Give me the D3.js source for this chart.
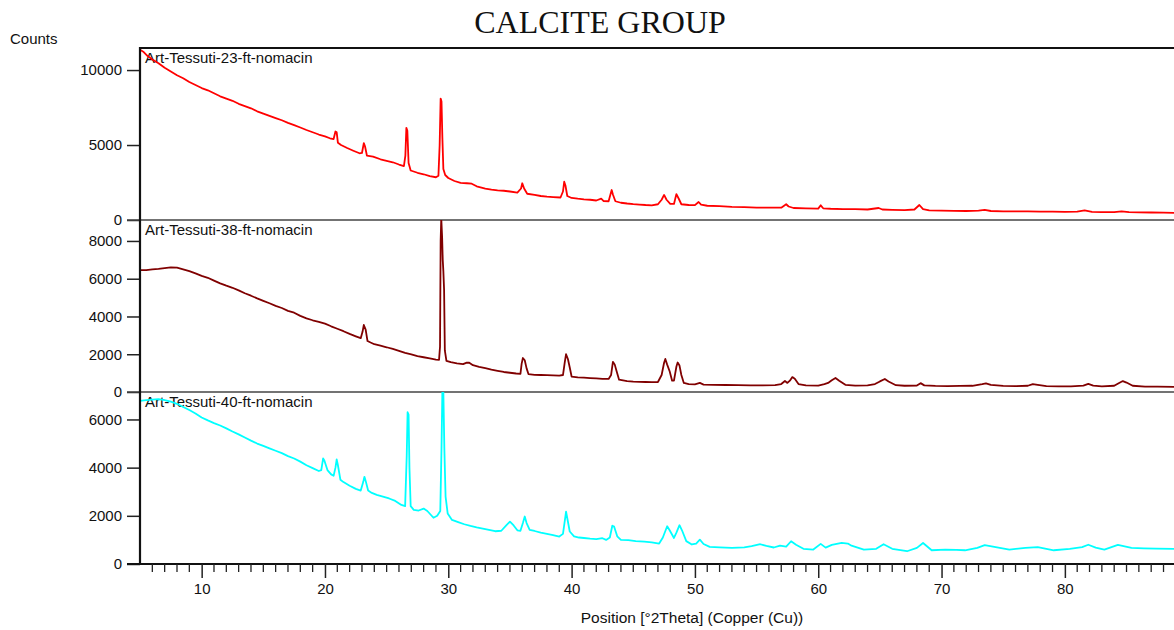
<!DOCTYPE html>
<html>
<head>
<meta charset="utf-8">
<script src="https://cdn.jsdelivr.net/npm/d3@7"></script>
<style>
  body { margin: 0; background: #fff; }
  svg { display: block; }
  text { font-family: "Liberation Sans", Arial, sans-serif; fill: #111; }
</style>
</head>
<body>
<svg id="chart" width="1174" height="630"></svg>
<script>
// Diffraction scans: [position °2θ, counts]
const sample23 = [
  [5.0,11350],[5.3,11200],[5.6,10950],[6.0,10700],[6.5,10450],[7.0,10150],[7.5,9900],[8.0,9650],[8.5,9450],[9.0,9200],
  [9.5,9000],[10.0,8800],[10.5,8650],[11.0,8450],[11.5,8250],[12.0,8100],[12.5,7950],[13.0,7750],[13.5,7600],[14.0,7450],
  [14.5,7250],[15.0,7100],[15.5,6950],[16.0,6800],[16.5,6650],[17.0,6480],[17.5,6330],[18.0,6170],[18.5,6000],[19.0,5850],
  [19.5,5700],[20.0,5580],[20.4,5450],[20.7,5400],[20.85,5900],[20.95,5850],[21.05,5150],[21.3,5000],[21.8,4800],[22.3,4620],
  [22.8,4450],[23.0,4470],[23.15,5130],[23.25,4900],[23.4,4300],[23.9,4230],[24.5,4050],[25.0,3950],[25.5,3850],[26.0,3700],
  [26.4,3600],[26.52,4300],[26.6,6150],[26.68,5950],[26.78,3800],[26.95,3300],[27.5,3150],[28.0,3050],[28.5,2920],[29.0,2850],
  [29.2,2950],[29.3,5000],[29.38,8100],[29.45,7900],[29.52,5500],[29.6,3400],[29.75,3000],[30.0,2800],[30.5,2600],[31.0,2470],
  [31.5,2450],[31.9,2420],[32.3,2250],[33.0,2100],[33.5,2020],[34.0,1980],[34.5,1950],[35.0,1900],[35.6,1830],[35.9,2100],
  [36.0,2450],[36.15,2100],[36.4,1750],[37.0,1680],[37.5,1600],[38.0,1560],[38.5,1530],[39.1,1500],[39.3,1900],[39.4,2550],
  [39.5,2300],[39.65,1600],[40.0,1470],[40.5,1420],[41.0,1380],[41.5,1350],[42.0,1300],[42.4,1420],[42.6,1260],[43.0,1250],
  [43.15,1700],[43.25,2000],[43.35,1700],[43.55,1250],[44.0,1150],[44.5,1100],[45.0,1060],[45.5,1030],[46.0,1000],[46.5,980],
  [47.0,1050],[47.3,1350],[47.5,1670],[47.7,1350],[48.0,1080],[48.3,1070],[48.5,1730],[48.7,1400],[48.9,1050],[49.5,1000],
  [50.0,990],[50.3,1200],[50.5,1020],[51.0,950],[52.0,930],[53.0,880],[54.0,860],[55.0,830],[56.0,820],[57.0,820],
  [57.4,1050],[57.6,900],[58.0,800],[59.0,780],[60.0,760],[60.2,980],[60.4,780],[61.0,750],[62.0,730],[63.0,720],
  [64.0,700],[64.9,800],[65.2,700],[66.0,680],[67.0,660],[67.8,700],[68.2,1000],[68.5,720],[69.0,640],[70.0,620],
  [71.0,610],[72.0,600],[73.0,620],[73.5,680],[74.0,600],[75.0,580],[76.0,570],[77.0,570],[78.0,560],[79.0,560],
  [80.0,540],[81.0,560],[81.6,640],[82.2,540],[83.0,530],[84.0,520],[84.6,570],[85.2,520],[86.0,510],[87.0,500],
  [88.0,490],[88.9,480]
];

const sample38 = [
  [5.0,6460],[5.5,6450],[6.0,6500],[6.5,6520],[7.0,6560],[7.5,6600],[8.0,6590],[8.5,6500],[9.0,6400],[9.5,6280],
  [10.0,6150],[10.5,6050],[11.0,5900],[11.5,5750],[12.0,5630],[12.5,5520],[13.0,5380],[13.5,5230],[14.0,5100],[14.5,4960],
  [15.0,4830],[15.5,4700],[16.0,4560],[16.5,4450],[17.0,4300],[17.5,4200],[18.0,4030],[18.5,3900],[19.0,3800],[19.5,3720],
  [20.0,3620],[20.5,3480],[21.0,3350],[21.5,3220],[22.0,3080],[22.5,2950],[22.9,2850],[23.05,3200],[23.15,3550],[23.3,3300],
  [23.45,2700],[23.7,2620],[24.0,2530],[24.5,2450],[25.0,2370],[25.5,2280],[26.0,2180],[26.5,2070],[27.0,1990],[27.5,1900],
  [28.0,1840],[28.5,1780],[29.0,1720],[29.25,1700],[29.33,2400],[29.38,8000],[29.43,9200],[29.5,8200],[29.55,7000],[29.6,6400],
  [29.66,5400],[29.72,2200],[29.85,1650],[30.2,1580],[30.7,1520],[31.2,1480],[31.5,1560],[31.7,1550],[32.0,1420],[32.5,1330],
  [33.0,1260],[33.5,1180],[34.0,1120],[34.5,1060],[35.0,1020],[35.5,980],[35.85,960],[35.95,1500],[36.05,1800],[36.2,1680],
  [36.35,1250],[36.5,950],[37.0,910],[37.5,900],[38.0,890],[38.5,880],[39.0,870],[39.3,900],[39.45,1600],[39.55,2000],
  [39.7,1750],[39.85,1300],[40.0,820],[40.5,770],[41.0,760],[41.5,740],[42.0,720],[42.5,700],[43.0,690],[43.2,900],
  [43.35,1600],[43.5,1450],[43.65,1100],[43.85,650],[44.5,580],[45.0,550],[45.5,540],[46.0,530],[46.5,520],[47.0,530],
  [47.3,900],[47.5,1550],[47.6,1750],[47.75,1450],[47.95,1100],[48.15,600],[48.3,600],[48.5,1350],[48.6,1560],[48.75,1400],
  [48.9,900],[49.1,480],[49.5,420],[50.0,400],[50.4,480],[50.7,390],[51.5,380],[52.5,370],[53.5,360],[54.5,350],
  [55.5,350],[56.5,360],[57.0,420],[57.3,580],[57.5,480],[57.7,600],[57.9,790],[58.1,700],[58.4,420],[59.0,350],
  [60.0,340],[60.5,420],[60.8,480],[61.1,620],[61.4,740],[61.7,600],[62.2,380],[63.0,340],[64.0,350],[64.6,420],
  [65.0,560],[65.4,690],[65.7,560],[66.3,360],[67.0,330],[68.0,340],[68.3,470],[68.6,350],[69.5,320],[70.5,310],
  [71.5,320],[72.5,330],[73.3,420],[73.6,460],[74.0,380],[75.0,320],[76.0,310],[77.0,330],[77.4,420],[77.8,380],
  [78.5,310],[79.5,300],[80.5,300],[81.5,340],[81.9,430],[82.3,340],[83.0,300],[84.0,330],[84.4,480],[84.7,580],
  [85.0,500],[85.5,330],[86.5,290],[87.5,280],[88.9,270]
];

const sample40 = [
  [5.0,6770],[5.5,6800],[6.0,6820],[6.5,6840],[7.0,6800],[7.5,6740],[8.0,6650],[8.5,6520],[9.0,6390],[9.5,6250],
  [10.0,6080],[10.5,5960],[11.0,5850],[11.5,5750],[12.0,5630],[12.5,5500],[13.0,5380],[13.5,5250],[14.0,5120],[14.5,5000],
  [15.0,4900],[15.5,4800],[16.0,4700],[16.5,4600],[17.0,4480],[17.5,4380],[18.0,4250],[18.5,4100],[19.0,3980],[19.5,3860],
  [19.7,3900],[19.85,4380],[19.95,4300],[20.2,3900],[20.5,3720],[20.7,3660],[20.85,4000],[20.95,4340],[21.05,4100],[21.25,3500],
  [21.5,3400],[22.0,3250],[22.5,3120],[22.9,3050],[23.1,3400],[23.2,3620],[23.3,3450],[23.5,3050],[23.8,2950],[24.2,2870],
  [24.7,2800],[25.2,2720],[25.7,2620],[26.2,2450],[26.5,2400],[26.63,4500],[26.7,6300],[26.78,6200],[26.85,4000],[26.95,2400],
  [27.2,2250],[27.6,2220],[28.0,2300],[28.3,2200],[28.8,1920],[29.1,2000],[29.35,2200],[29.45,4800],[29.52,7200],[29.6,7150],
  [29.68,4800],[29.78,2800],[29.95,2100],[30.3,1830],[30.8,1740],[31.3,1650],[31.8,1580],[32.3,1520],[32.8,1470],[33.3,1420],
  [33.8,1360],[34.3,1380],[34.7,1600],[35.0,1760],[35.3,1600],[35.6,1400],[35.85,1380],[36.05,1700],[36.2,1970],[36.35,1700],
  [36.6,1420],[37.0,1370],[37.5,1300],[38.0,1250],[38.5,1200],[39.0,1140],[39.3,1250],[39.45,1800],[39.55,2170],[39.65,1900],
  [39.85,1350],[40.2,1150],[40.6,1100],[41.0,1080],[41.5,1050],[42.0,1030],[42.5,1070],[42.8,1000],[43.1,1100],[43.3,1590],
  [43.45,1550],[43.7,1150],[44.0,1000],[44.6,990],[45.2,950],[45.9,930],[46.5,900],[47.1,850],[47.4,1100],[47.75,1565],
  [47.95,1400],[48.3,1080],[48.5,1300],[48.75,1610],[48.95,1400],[49.3,950],[49.75,810],[50.1,850],[50.4,1010],[50.7,830],
  [51.2,710],[52.0,690],[53.0,670],[54.0,690],[54.6,740],[55.3,820],[55.8,750],[56.4,685],[56.9,765],[57.4,720],
  [57.8,945],[58.2,800],[58.8,630],[59.6,600],[60.2,835],[60.6,680],[61.1,795],[61.9,880],[62.4,850],[62.7,760],
  [63.7,600],[64.7,630],[65.3,820],[66.0,630],[67.2,530],[68.0,670],[68.5,870],[69.2,570],[70.3,600],[71.2,590],
  [71.9,570],[72.9,670],[73.5,780],[74.5,690],[75.5,600],[76.8,670],[77.8,700],[79.1,570],[80.4,630],[81.4,700],
  [81.9,800],[82.5,680],[83.2,600],[84.3,790],[85.4,670],[86.4,650],[87.4,640],[88.9,630]
];

const sampleNames = ["Art-Tessuti-23-ft-nomacin", "Art-Tessuti-38-ft-nomacin", "Art-Tessuti-40-ft-nomacin"];
const sampleColors = ["#ff0000", "#800000", "#00ffff"];
const countTicks = [[0, 5000, 10000], [0, 2000, 4000, 6000, 8000], [0, 2000, 4000, 6000]];
const countMax = [11470, 9110, 7140];
const positionTicks = [10, 20, 30, 40, 50, 60, 70, 80];
const positionDomain = [5, 88.85];

const chartTitle = "CALCITE GROUP";
const yTitle = "Counts";
const xTitle = "Position [°2Theta] (Copper (Cu))";

const svg = d3.select("#chart");
const left = 140, right = 1174;
const bands = [[48, 220], [220, 392], [392, 564]];

const x = d3.scaleLinear().domain(positionDomain).range([left, right]);

svg.append("text")
  .attr("x", 600).attr("y", 33)
  .attr("text-anchor", "middle")
  .style("font-family", '"Liberation Serif", "Times New Roman", serif')
  .style("font-size", "32px")
  .text(chartTitle);

svg.append("text")
  .attr("x", 10).attr("y", 44)
  .style("font-size", "15px")
  .text(yTitle);

const series = [sample23, sample38, sample40];

series.forEach((data, i) => {
  const [top, bottom] = bands[i];
  const y = d3.scaleLinear().domain([0, countMax[i]]).range([bottom, top]);

  svg.append("clipPath").attr("id", "clip" + i)
    .append("rect").attr("x", left).attr("y", top).attr("width", right - left).attr("height", bottom - top);

  svg.append("text")
    .attr("x", 145).attr("y", top + 15)
    .style("font-size", "15px")
    .text(sampleNames[i]);

  const line = d3.line().x(d => x(d[0])).y(d => y(d[1]));
  svg.append("path")
    .datum(data)
    .attr("clip-path", `url(#clip${i})`)
    .attr("fill", "none")
    .attr("stroke", sampleColors[i])
    .attr("stroke-width", 1.8)
    .attr("stroke-linejoin", "round")
    .attr("d", line);

  const axis = d3.axisLeft(y).tickValues(countTicks[i]).tickSize(13).tickPadding(5).tickFormat(d3.format("d"));
  const g = svg.append("g").attr("transform", `translate(${left},0)`).call(axis);
  g.select(".domain").remove();
  g.selectAll(".tick line").attr("stroke", "#222").attr("stroke-width", 1.5);
  g.selectAll(".tick text")
    .style("font-family", '"Liberation Sans", Arial, sans-serif')
    .style("font-size", "15px").attr("fill", "#111");

  // separator / baseline of each panel
  if (i < 2) {
    svg.append("line")
      .attr("x1", left - 13).attr("x2", right)
      .attr("y1", bottom).attr("y2", bottom)
      .attr("stroke", "#444").attr("stroke-width", 1.4);
  }
});

// outer frame: top edge and left spine
svg.append("line").attr("x1", left).attr("x2", right).attr("y1", 48).attr("y2", 48)
  .attr("stroke", "#111").attr("stroke-width", 2.2);
svg.append("line").attr("x1", left).attr("x2", left).attr("y1", 47).attr("y2", 565)
  .attr("stroke", "#111").attr("stroke-width", 2.2);

// position axis with minor ticks every degree
const minor = d3.range(6, 89, 1).filter(v => v % 10 !== 0);
const xg = svg.append("g").attr("transform", "translate(0,564)");
xg.append("line").attr("x1", left - 13).attr("x2", right).attr("y1", 0).attr("y2", 0)
  .attr("stroke", "#111").attr("stroke-width", 2.2);
xg.selectAll(".minor").data(minor).join("line")
  .attr("class", "minor")
  .attr("x1", d => x(d)).attr("x2", d => x(d)).attr("y1", 0).attr("y2", 8)
  .attr("stroke", "#222").attr("stroke-width", 1.3);
const xAxis = d3.axisBottom(x).tickValues(positionTicks).tickSize(14).tickPadding(5).tickFormat(d3.format("d"));
const xa = xg.append("g").call(xAxis);
xa.select(".domain").remove();
xa.selectAll(".tick line").attr("stroke", "#222").attr("stroke-width", 1.5);
xa.selectAll(".tick text")
  .style("font-family", '"Liberation Sans", Arial, sans-serif')
  .style("font-size", "15px").attr("fill", "#111");

svg.append("text")
  .attr("x", 692).attr("y", 623)
  .attr("text-anchor", "middle")
  .style("font-size", "15.5px")
  .text(xTitle);
</script>
</body>
</html>
